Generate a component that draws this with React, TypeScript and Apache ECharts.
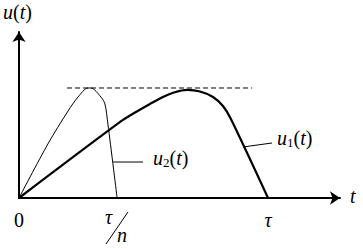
import React, { useEffect, useRef } from "react";
import * as echarts from "echarts";

// time in units of tau, voltage in units of the common peak
const u1T = [0, 0.406, 0.466, 0.526, 0.578, 0.622, 0.675, 0.727, 0.779, 0.819, 0.851, 1.0];
const u1V = [0, 0.691, 0.777, 0.855, 0.918, 0.959, 0.982, 0.968, 0.918, 0.836, 0.718, 0];
const u2T = [0, 0.116, 0.197, 0.237, 0.277, 0.289, 0.329, 0.345, 0.357, 0.394];
const u2V = [0, 0.491, 0.791, 0.918, 1.0, 1.0, 0.918, 0.855, 0.673, 0];
const peakT = [0.193, 0.936];
const peakV = [1, 1];
const lead2T = [0.378, 0.498];
const lead2V = [0.327, 0.327];
const lead1T = [0.9, 1.016];
const lead1V = [0.464, 0.5];
const tickValues = [0, 1];
const tickLabels = ["0", "τ"];

const FAM = "Times New Roman";

const pairs = (xs: number[], ys: number[]) => xs.map((x, i) => [x, ys[i]]);

const gRich = () => ({
  i: { fontFamily: FAM, fontStyle: "italic", fontSize: 20, lineHeight: 22, fill: "#000" },
  r: { fontFamily: FAM, fontSize: 20, lineHeight: 22, fill: "#000" },
  s: { fontFamily: FAM, fontSize: 13, lineHeight: 13, verticalAlign: "bottom", fill: "#000" },
});

export default function App() {
  const ref = useRef<HTMLDivElement>(null);
  useEffect(() => {
    const chart = echarts.init(ref.current!, undefined, { renderer: "svg" });
    chart.setOption({
      animation: false,
      textStyle: { fontFamily: FAM },
      grid: { left: 19, top: 32, width: 321, height: 166 },
      xAxis: {
        type: "value",
        min: 0,
        max: 1.289,
        splitLine: { show: false },
        axisTick: { show: false },
        axisLine: {
          onZero: false,
          symbol: ["none", "arrow"],
          symbolSize: [10, 10],
          lineStyle: { color: "#000", width: 2 },
        },
        axisLabel: {
          customValues: tickValues,
          margin: 12,
          fontFamily: FAM,
          fontSize: 20,
          color: "#000",
          formatter: (v: number) => {
            const idx = tickValues.indexOf(v);
            if (idx < 0) return "";
            return idx === 0 ? "{r|" + tickLabels[idx] + "}" : "{i|" + tickLabels[idx] + "}";
          },
          rich: {
            i: { fontFamily: FAM, fontStyle: "italic", fontSize: 20 },
            r: { fontFamily: FAM, fontSize: 20 },
          },
        },
      },
      yAxis: {
        type: "value",
        min: 0,
        max: 1.509,
        splitLine: { show: false },
        axisTick: { show: false },
        axisLabel: { show: false },
        axisLine: {
          show: true,
          onZero: false,
          symbol: ["none", "arrow"],
          symbolSize: [10, 10],
          lineStyle: { color: "#000", width: 2 },
        },
      },
      series: [
        {
          type: "line",
          data: pairs(u1T, u1V),
          showSymbol: false,
          smooth: 0.3,
          lineStyle: { color: "#000", width: 2.2 },
        },
        {
          type: "line",
          data: pairs(u2T, u2V),
          showSymbol: false,
          smooth: 0.3,
          lineStyle: { color: "#000", width: 1 },
        },
        {
          type: "line",
          data: pairs(peakT, peakV),
          showSymbol: false,
          lineStyle: { color: "#000", width: 1, type: [5, 3] },
        },
        {
          type: "line",
          data: pairs(lead2T, lead2V),
          showSymbol: false,
          lineStyle: { color: "#000", width: 1 },
        },
        {
          type: "line",
          data: pairs(lead1T, lead1V),
          showSymbol: false,
          lineStyle: { color: "#000", width: 1 },
        },
      ],
      graphic: [
        { type: "text", left: 3, top: 2, style: { text: "{i|u}{r|(}{i|t}{r|)}", rich: gRich() } },
        { type: "text", left: 350, top: 186, style: { text: "{i|t}", rich: gRich() } },
        { type: "text", left: 153, top: 148, style: { text: "{i|u}{s|2}{r|(}{i|t}{r|)}", rich: gRich() } },
        { type: "text", left: 277, top: 128, style: { text: "{i|u}{s|1}{r|(}{i|t}{r|)}", rich: gRich() } },
        { type: "text", left: 105, top: 207, style: { text: "{i|τ}", rich: gRich() } },
        { type: "text", left: 117, top: 225, style: { text: "{i|n}", rich: gRich() } },
        { type: "line", shape: { x1: 128, y1: 212, x2: 106, y2: 244 }, style: { stroke: "#000", lineWidth: 1 } },
      ],
    });
    return () => chart.dispose();
  }, []);
  return (
    <div
      ref={ref}
      style={{ position: "absolute", left: 0, top: 0, width: 363, height: 249, background: "#fff" }}
    />
  );
}
